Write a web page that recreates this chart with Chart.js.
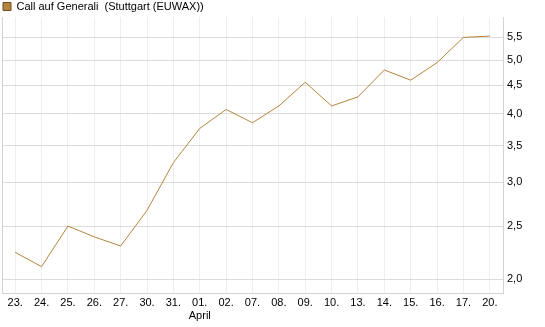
<!DOCTYPE html>
<html>
<head>
<meta charset="utf-8">
<script src="https://cdn.jsdelivr.net/npm/chart.js@4/dist/chart.umd.min.js"></script>
<style>
  html, body { margin: 0; padding: 0; background: #fff; }
  #wrap { width: 545px; height: 327px; }
</style>
</head>
<body>
<div id="wrap"><canvas id="chart" width="545" height="327"></canvas></div>
<script>
// data
const days = ['23.', '24.', '25.', '26.', '27.', '30.', '31.', ['01.', 'April'], '02.', '07.',
              '08.', '09.', '10.', '13.', '14.', '15.', '16.', '17.', '20.'];
const prices = [2.24, 2.11, 2.50, 2.39, 2.30, 2.67, 3.26, 3.76, 4.07, 3.85,
                4.13, 4.56, 4.13, 4.29, 4.80, 4.60, 4.95, 5.50, 5.53];
const yTicks = [2.0, 2.5, 3.0, 3.5, 4.0, 4.5, 5.0, 5.5];
const seriesName = 'Call auf Generali  (Stuttgart (EUWAX))';

// left edge of the plot has a border line too
const leftBorder = {
    id: 'leftBorder',
    beforeDatasetsDraw(chart) {
        const { ctx, chartArea } = chart;
        ctx.save();
        ctx.strokeStyle = '#d2d2d2';
        ctx.lineWidth = 1;
        ctx.beginPath();
        ctx.moveTo(chartArea.left + 0.5, chartArea.top);
        ctx.lineTo(chartArea.left + 0.5, chartArea.bottom);
        ctx.stroke();
        ctx.restore();
    }
};

Chart.defaults.font.family = '"Liberation Sans", Arial, sans-serif';
Chart.defaults.font.size = 11;
Chart.defaults.color = '#000';

new Chart(document.getElementById('chart').getContext('2d'), {
    type: 'line',
    data: {
        labels: days,
        datasets: [{
            label: seriesName,
            data: prices,
            borderColor: '#b5843e',
            backgroundColor: '#b5843e',
            borderWidth: 1,
            pointRadius: 0,
            tension: 0,
            fill: false
        }]
    },
    options: {
        responsive: false,
        animation: false,
        layout: { padding: { left: 2, right: 0, top: 0, bottom: 0 } },
        plugins: {
            legend: {
                display: true,
                position: 'top',
                align: 'start',
                maxHeight: 17,
                labels: {
                    boxWidth: 8,
                    boxHeight: 8,
                    padding: 1,
                    color: '#000',
                    generateLabels: (chart) => [{
                        text: seriesName,
                        fillStyle: '#b5843e',
                        strokeStyle: '#6e4e22',
                        lineWidth: 1,
                        datasetIndex: 0
                    }]
                }
            },
            tooltip: { enabled: false }
        },
        scales: {
            x: {
                offset: true,
                grid: { color: '#eeeeee', offset: false, drawTicks: false },
                border: { color: '#d2d2d2' },
                ticks: { maxRotation: 0, autoSkip: false, padding: 3, color: '#000' },
                afterFit: (axis) => { axis.height = 34; }
            },
            y: {
                type: 'logarithmic',
                position: 'right',
                min: 1.89,
                max: 5.99,
                grid: { color: '#dcdcdc', drawTicks: false },
                border: { color: '#d2d2d2' },
                afterBuildTicks: (axis) => {
                    axis.ticks = yTicks.map(v => ({ value: v }));
                },
                afterFit: (axis) => { axis.width = 42; },
                ticks: {
                    padding: 4,
                    color: '#000',
                    callback: (v) => Number(v).toFixed(1).replace('.', ',')
                }
            }
        }
    },
    plugins: [leftBorder]
});
</script>
</body>
</html>
